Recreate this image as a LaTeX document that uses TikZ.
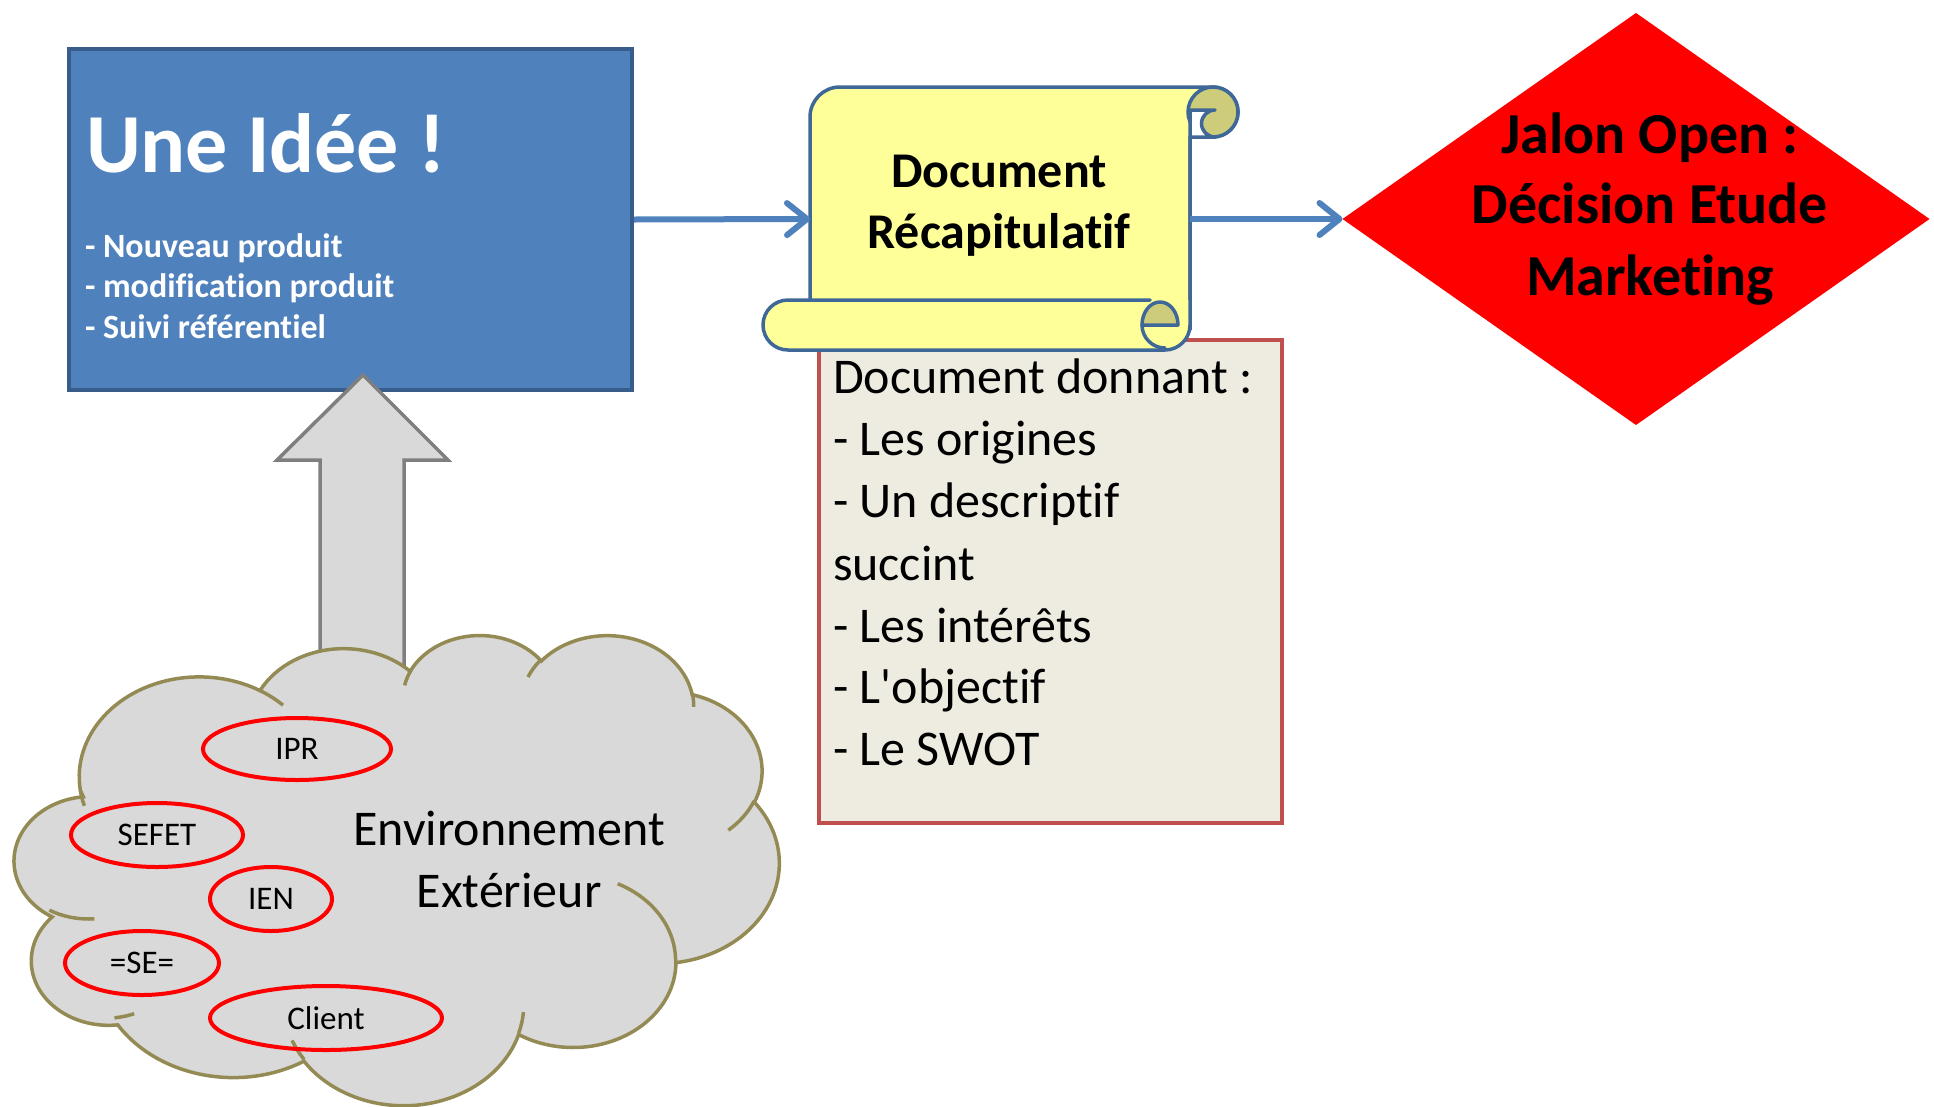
\documentclass[tikz,border=0pt]{standalone}
\usepackage{fontspec}
\setmainfont{Carlito}[Ligatures={TeX,CommonOff}]
\usetikzlibrary{shapes.geometric,arrows.meta}
\definecolor{ideafill}{HTML}{4F81BD}
\definecolor{idealine}{HTML}{385D8A}
\definecolor{scrollfill}{HTML}{FFFF99}
\definecolor{scrolldark}{HTML}{CCCC7A}
\definecolor{scrollline}{HTML}{3F6797}
\definecolor{descfill}{HTML}{EEECE1}
\definecolor{descline}{HTML}{C0504D}
\definecolor{cloudfill}{HTML}{D9D9D9}
\definecolor{cloudline}{HTML}{948A54}
\definecolor{arrowline}{HTML}{7F7F7F}
\definecolor{connblue}{HTML}{4F81BD}
% OOXML arcTo (visual angles) -> TikZ parametric arc
\newcommand\cldprep[5]{%
  \pgfmathsetmacro\cldts{atan2((#2)*sin(#4),(#3)*cos(#4))}%
  \pgfmathsetmacro\cldte{atan2((#2)*sin((#4)+(#5)),(#3)*cos((#4)+(#5)))}%
  \pgfmathsetmacro\cldd{\cldte-\cldts}%
  \ifdim\cldd pt<0pt \pgfmathsetmacro\cldd{\cldd+360}\fi
  \xdef#1{arc[x radius=#2,y radius=#3,start angle=\cldts,delta angle=\cldd]}%
}
\begin{document}
\begin{tikzpicture}[x=1pt,y=-1pt,
  conn/.style={draw=connblue,line width=6pt,-{Straight Barb[length=20pt,width=32pt,round]}},
  txt/.style={inner sep=0pt,outer sep=0pt},
  bullet/.style={txt,anchor=base west,text=white,font=\bfseries\fontsize{34}{40}\selectfont},
  desctxt/.style={txt,anchor=base west,font=\fontsize{50}{62}\selectfont},
  doctxt/.style={txt,anchor=base,font=\bfseries\fontsize{50}{61}\selectfont},
  jalontxt/.style={txt,anchor=base,font=\bfseries\fontsize{58}{71}\selectfont},
  envtxt/.style={txt,anchor=base,font=\fontsize{50}{62}\selectfont},
  org/.style={ellipse,draw=red,line width=4pt,inner sep=0pt,font=\fontsize{33}{40}\selectfont},
  scrollshape/.style={fill=scrollfill,draw=scrollline,line width=3.5pt,line join=round},
  scrollstroke/.style={draw=scrollline,line width=3.5pt,line join=round,line cap=round},
  cloudshape/.style={fill=cloudfill,draw=cloudline,line width=3.5pt},
  cloudhint/.style={draw=cloudline,line width=3.5pt},
  blockarrow/.style={fill=cloudfill,draw=arrowline,line width=3.5pt}]
\useasboundingbox (0,0) rectangle (1934,1106);

% ---- Une Idée box
\node[draw=idealine,fill=ideafill,line width=4pt,minimum width=563pt,minimum height=341pt,inner sep=0pt] (idea) at (350.5,219.5) {};
\node[txt,anchor=base west,text=white,font=\bfseries\fontsize{84}{100}\selectfont] (title) at (86,172) {Une Idée !};
\node[bullet] (b1) at (85,257) {- Nouveau produit};
\node[bullet] (b2) at (85,297) {- modification produit};
\node[bullet] (b3) at (85,338) {- Suivi référentiel};

% ---- grey block arrow
\draw[blockarrow] (363,375) -- (448,460) -- (404,460) -- (404,700) -- (320,700) -- (320,460) -- (277,460) -- cycle;

% ---- cloud
\cldprep\cldA{67.53}{91.90}{-190.4875}{123.7805}
\cldprep\cldB{53.33}{72.67}{-144.1024}{89.9452}
\cldprep\cldC{43.65}{59.45}{-145.8079}{99.7230}
\cldprep\cldD{48.57}{65.95}{-130.9861}{117.2417}
\cldprep\cldE{53.33}{72.73}{-78.7089}{109.0269}
\cldprep\cldF{67.75}{92.20}{-46.2673}{130.2690}
\cldprep\cldG{57.85}{78.67}{0.6250}{114.0333}
\cldprep\cldH{67.52}{92.15}{22.4516}{115.1726}
\cldprep\cldI{77.20}{105.43}{66.2426}{72.4894}
\cldprep\cldJ{43.60}{59.18}{-274.9421}{146.7356}
\cldprep\cldK{43.45}{59.45}{-246.8285}{152.5189}
\cldprep\hA{43.45}{59.45}{86.7420}{26.4295}
\cldprep\hB{43.60}{59.18}{73.6105}{11.4475}
\cldprep\hC{67.52}{92.15}{137.6242}{14.0811}
\cldprep\hD{67.52}{92.15}{6.4533}{15.9984}
\cldprep\hE{57.85}{78.67}{-70.2924}{70.9174}
\cldprep\hF{53.33}{72.73}{30.3180}{27.7515}
\cldprep\hG{48.57}{65.95}{-13.7443}{14.8589}
\cldprep\hH{48.57}{65.95}{-149.1815}{18.1954}
\cldprep\hI{43.65}{59.45}{-163.4943}{17.6864}
\cldprep\hJ{67.53}{91.90}{-66.7070}{12.3194}
\cldprep\hK{67.53}{91.90}{157.6544}{11.8582}
\begin{scope}[shift={(11,634)},x=1.77778pt,y=-1.08796pt]
  \path[cloudshape] (39,143.7) \cldA \cldB \cldC \cldD \cldE \cldF \cldG \cldH \cldI \cldJ \cldK -- cycle;
  \draw[cloudhint] (46.93,261.77) \hA (69.28,348.99) \hB (164.78,390.90) \hC
     (288.27,347.51) \hD (341.29,229.54) \hE (417.98,153.54) \hF (383.24,54.26) \hG
     (290.78,39.52) \hH (221.41,47.20) \hI (140.00,51.92) \hJ (41.27,157.89) \hK;
\end{scope}
\node[org,minimum width=188pt,minimum height=62pt] (ipr) at (297,749) {IPR};
\node[org,minimum width=172pt,minimum height=64pt] (sefet) at (157,835) {SEFET};
\node[org,minimum width=122pt,minimum height=64pt] (ien) at (271,899) {IEN};
\node[org,minimum width=154pt,minimum height=64pt] (se) at (142,963) {=SE=};
\node[org,minimum width=232pt,minimum height=64pt] (client) at (326,1018) {Client};
\node[envtxt] (env1) at (509,845) {Environnement};
\node[envtxt] (env2) at (509,907) {Extérieur};

% ---- description box
\node[draw=descline,fill=descfill,line width=4pt,minimum width=463pt,minimum height=483pt,inner sep=0pt] (desc) at (1050.5,581.5) {};
\node[desctxt] (d1) at (833,393) {Document donnant :};
\node[desctxt] (d2) at (833,455) {- Les origines};
\node[desctxt] (d3) at (833,517) {- Un descriptif};
\node[desctxt] (d4) at (833,580) {succint};
\node[desctxt] (d5) at (833,642) {- Les intérêts};
\node[desctxt] (d6) at (833,703) {- L\textquotesingle objectif};
\node[desctxt] (d7) at (833,765) {- Le SWOT};

% ---- scroll
\node[txt,minimum width=380pt,minimum height=264pt] (doc) at (1000,219) {};
\path[scrollshape] (810,330) -- (810,117) arc[start angle=180,end angle=270,radius=30]
   -- (1213,87) arc[start angle=-90,end angle=90,radius=25] -- (1190,137) -- (1190,330);
\path[fill=scrolldark,draw=scrollline,line width=3.5pt] (1213,112) circle[radius=25];
\path[fill=white,draw=scrollline,line width=3.5pt,line join=round] (1190,110) -- (1215,110)
   arc[start angle=-90,end angle=-270,radius=13.5] -- (1190,137) -- cycle;
\fill[scrollfill] (1190,300) -- (788,300) arc[start angle=-90,end angle=-270,radius=25]
   -- (1165,350) arc[start angle=90,end angle=0,radius=25] -- cycle;
\draw[scrollstroke] (1150,300) -- (788,300) arc[start angle=-90,end angle=-270,radius=25]
   -- (1165,350) arc[start angle=90,end angle=0,radius=25] -- (1190,137);
\path[fill=scrolldark,draw=scrollline,line width=3.5pt,line join=round] (1142,325)
   arc[start angle=180,end angle=360,x radius=18,y radius=23] -- cycle;
\draw[scrollstroke] (1142,325) arc[start angle=180,end angle=90,radius=23];
\node[doctxt] (doct1) at (999,187) {Document};
\node[doctxt] (doct2) at (999,248) {Récapitulatif};

% ---- decision diamond
\node[diamond,fill=red,minimum width=587pt,minimum height=412pt,inner sep=0pt,outer sep=0pt] (jalon) at (1636,219) {};
\node[jalontxt] (j1) at (1650,153) {Jalon Open :};
\node[jalontxt] (j2) at (1650,223) {Décision Etude};
\node[jalontxt] (j3) at (1650,295) {Marketing};

% ---- connectors
\draw[conn] (idea.east) -- (doc.west);
\draw[conn] (doc.east) -- (jalon.west);
\end{tikzpicture}
\end{document}
